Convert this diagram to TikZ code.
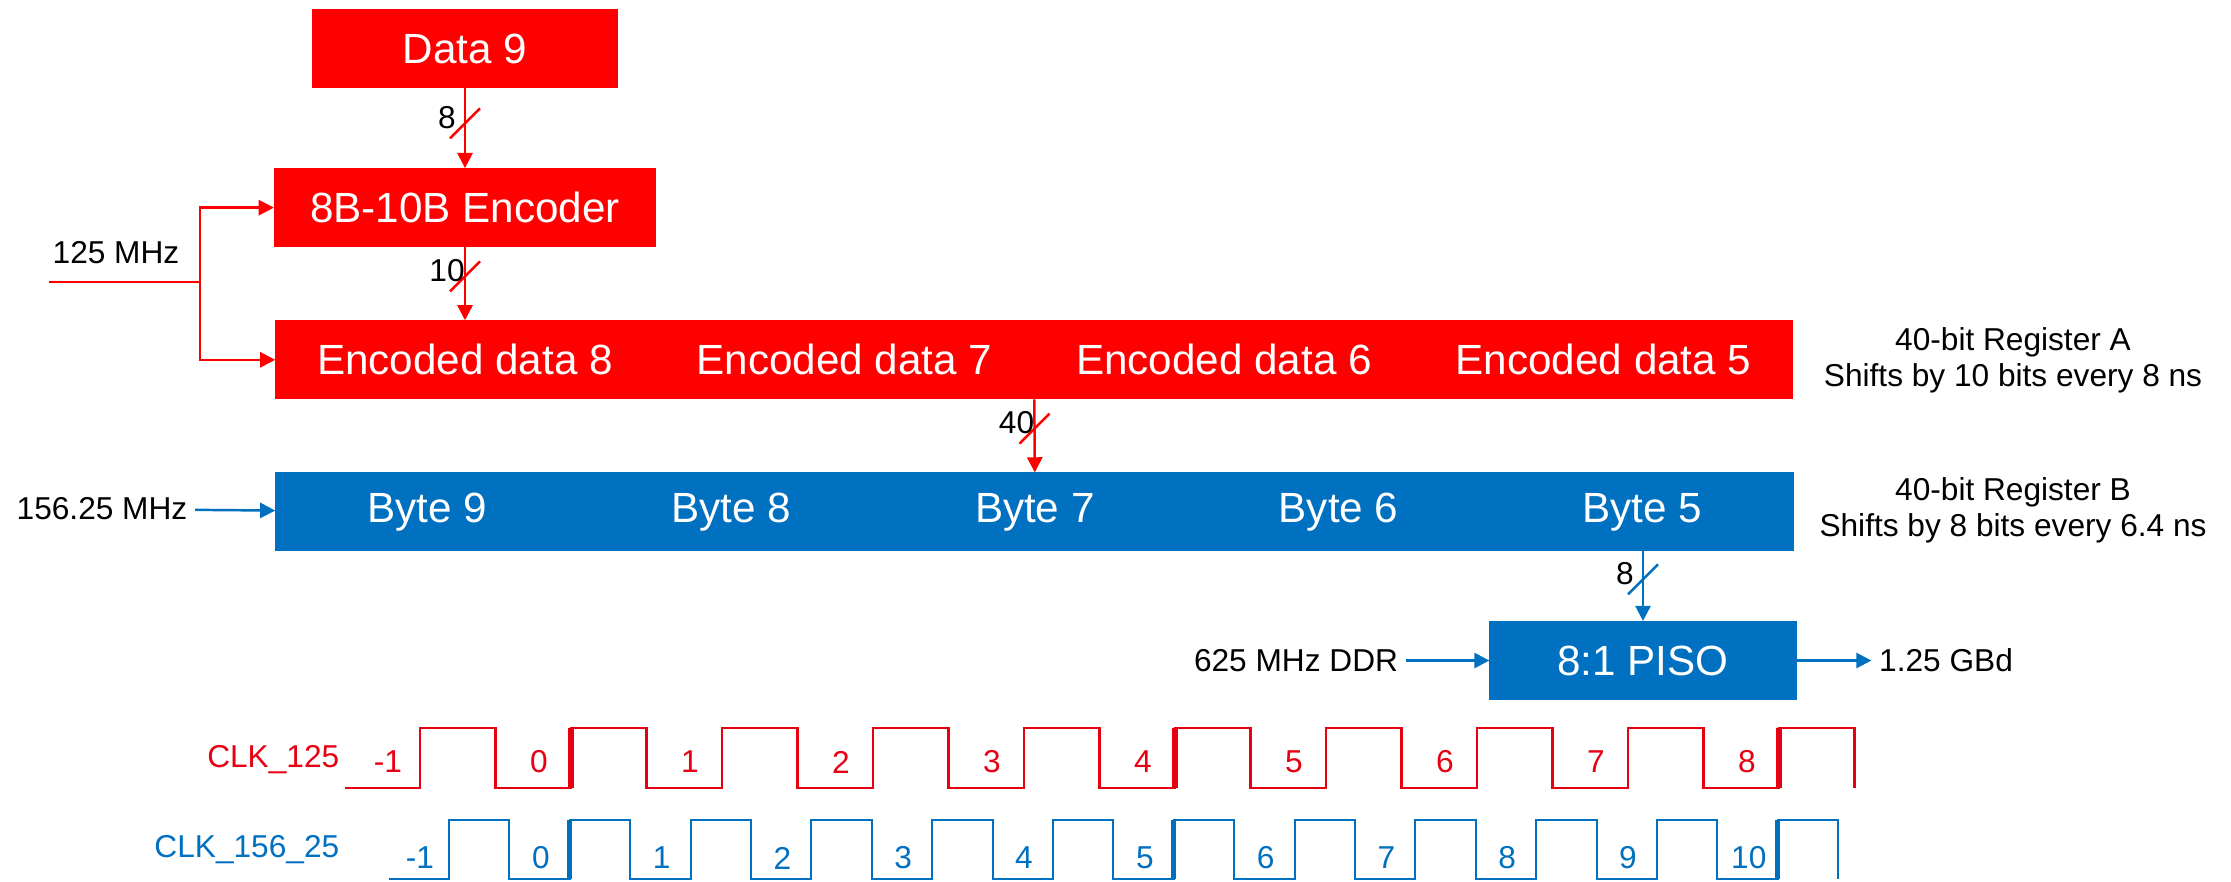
\documentclass[tikz,border=0pt]{standalone}
\usepackage{fontspec}
\setmainfont{Liberation Sans}
\usetikzlibrary{positioning, arrows.meta}
\definecolor{boxred}{RGB}{255,0,0}
\definecolor{boxblue}{RGB}{0,112,192}
\definecolor{clkred}{RGB}{230,0,18}
\tikzset{
  block/.style={text=white, inner sep=0pt, minimum height=0.78cm, line width=0.3pt, font=\fontsize{12}{14}\selectfont},
  redblock/.style={block, fill=boxred, draw=boxred},
  blueblock/.style={block, fill=boxblue, draw=boxblue},
  lbl/.style={font=\fontsize{9}{10.2}\selectfont, inner sep=2pt},
  redarrow/.style={draw=boxred, line width=0.7pt, -{Triangle[length=4.3pt, width=4.3pt]}},
  bluearrow/.style={draw=boxblue, line width=0.7pt, -{Triangle[length=4.3pt, width=4.3pt]}},
  wave/.style={line width=0.6pt},
  edgemark/.style={line width=1.5pt},
  pics/buswidth/.style={code={
    \draw[-, line width=0.7pt] (-15,15) -- (15,-15);
    \node[lbl, text=black] at (-18,-6) {#1};
  }},
}

\begin{document}
\begin{tikzpicture}[x=0.01cm, y=-0.01cm]
        \useasboundingbox (0,0) rectangle (2231,881);
        % encoder path
        \node[redblock, minimum width=3.05cm] (data9) at (465,48.5) {Data 9};
        \node[redblock, minimum width=3.81cm, below=0.8cm of data9] (enc) {8B-10B Encoder};
        % register A
        \node[redblock, minimum width=3.7825cm, below=0.73cm of enc] (ed8) {Encoded data 8};
        \node[redblock, minimum width=3.7825cm, right=0pt of ed8] (ed7) {Encoded data 7};
        \node[redblock, minimum width=3.7825cm, right=0pt of ed7] (ed6) {Encoded data 6};
        \node[redblock, minimum width=3.7825cm, right=0pt of ed6] (ed5) {Encoded data 5};
        % register B
        \node[blueblock, minimum width=3.026cm, below=0.73cm of ed8.south west, anchor=north west] (b9) {Byte 9};
        \node[blueblock, minimum width=3.026cm, right=0pt of b9] (b8) {Byte 8};
        \node[blueblock, minimum width=3.026cm, right=0pt of b8] (b7) {Byte 7};
        \node[blueblock, minimum width=3.026cm, right=0pt of b7] (b6) {Byte 6};
        \node[blueblock, minimum width=3.026cm, right=0pt of b6] (b5) {Byte 5};
        \node[blueblock, minimum width=3.06cm] (piso) at (1643,660.5) {8:1 PISO};
        %
        \node[lbl, align=center] (rega) at (2013,360) {40-bit Register A\\Shifts by 10 bits every 8 ns};
        \node[lbl, align=center] (regb) at (2013,510) {40-bit Register B\\Shifts by 8 bits every 6.4 ns};
        % clock inputs
        \node[lbl] (clka) at (116,253) {125 MHz};
        \coordinate (clkain) at (49,282);
        \coordinate (split) at (200,282);
        \draw[redarrow] (clkain) -- (split) |- (enc.west);
        \draw[redarrow] (split) |- (ed8.west);
        \node[lbl] (clkb) at (102,509) {156.25 MHz};
        \draw[bluearrow] (clkb) -- (b9);
        \node[lbl] (ddr) at (1296,660.5) {625 MHz DDR};
        \draw[bluearrow] (ddr) -- (piso);
        \node[lbl] (gbd) at (1946,660.5) {1.25 GBd};
        \draw[bluearrow] (piso) -- (gbd);
        % data buses
        \draw[redarrow] (data9) -- pic[pos=.44, boxred]{buswidth=8} (enc);
        \draw[redarrow] (enc) -- pic[pos=.4, boxred]{buswidth=10} (ed8);
        \draw[redarrow] (ed7.south east) -- pic[pos=.4, boxred]{buswidth=40} (b7.north);
        \draw[bluearrow] (b5.south -| piso.north) -- pic[pos=.4, boxblue]{buswidth=8} (piso.north);
        % clocks
        \node[lbl, text=clkred, anchor=east] (clk125) at (347,760) {CLK\_125};
        \draw[wave, clkred] (345,788) -- (420,788) \foreach \k in {0,...,8} { -- ++(0,-60) -- ++(75.5,0) -- ++(0,60) -- ++(75.5,0) } -- ++(0,-60) -- ++(75.5,0) -- ++(0,60);
        \foreach \k in {1,5,9} \draw[edgemark, clkred] ({420+151*\k},788) -- ++(0,-60);
        \foreach \n in {-1,...,8} \node[lbl, text=clkred] at ({420+151*(\n+1)-32},762) {\n};
        \node[lbl, text=boxblue, anchor=east] (clk156) at (347,850) {CLK\_156\_25};
        \draw[wave, boxblue] (389,879) -- (449,879) \foreach \k in {0,...,10} { -- ++(0,-59) -- ++(60.4,0) -- ++(0,59) -- ++(60.4,0) } -- ++(0,-59) -- ++(60.4,0) -- ++(0,59);
        \foreach \k in {1,6,11} \draw[edgemark, boxblue] ({449+120.8*\k},879) -- ++(0,-59);
        \foreach \n in {-1,...,10} \node[lbl, text=boxblue] at ({449+120.8*(\n+1)-29},858) {\n};
\end{tikzpicture}
\end{document}
